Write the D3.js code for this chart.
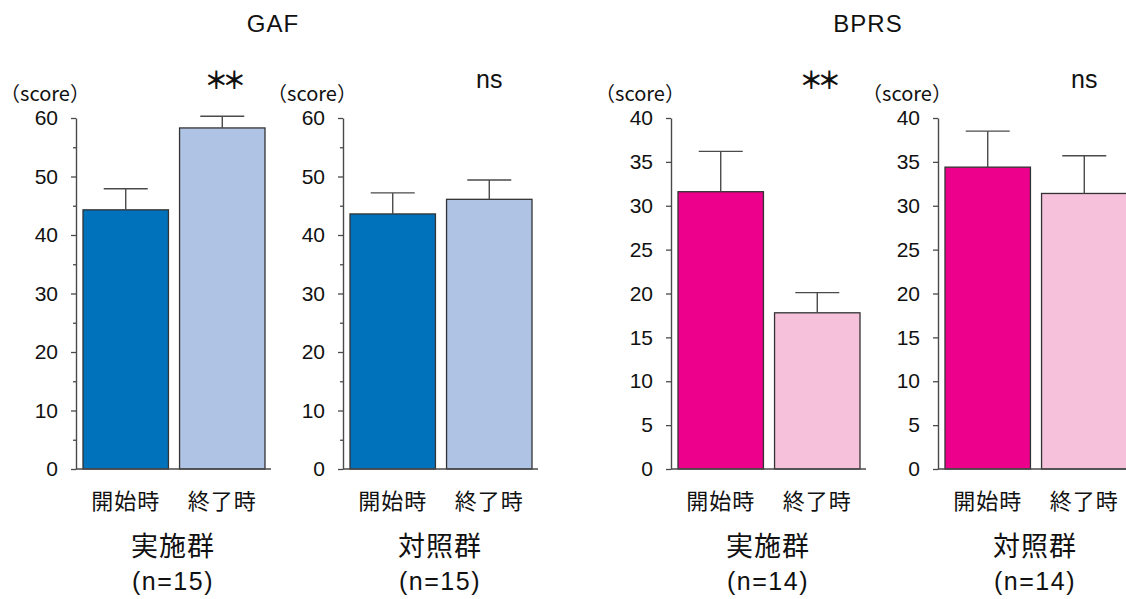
<!DOCTYPE html>
<html>
<head>
<meta charset="utf-8">
<script src="https://cdn.jsdelivr.net/npm/d3@7"></script>
<style>
  html, body { margin: 0; padding: 0; background: #fff; }
  svg { display: block; }
</style>
</head>
<body>
<svg id="chart" width="1126" height="599"></svg>
<script>
// Time points within each group
const timePoints = ["開始時", "終了時"];

// Means and upper SD per panel (start, end)
const gafTreatMean = [44.3, 58.3];
const gafTreatSd   = [3.6, 2.0];
const gafCtrlMean  = [43.6, 46.1];
const gafCtrlSd    = [3.6, 3.3];
const bprsTreatMean = [31.6, 17.8];
const bprsTreatSd   = [4.6, 2.3];
const bprsCtrlMean  = [34.4, 31.4];
const bprsCtrlSd    = [4.1, 4.3];

// Group labels, sample sizes and significance marks
const groupNames = ["実施群", "対照群", "実施群", "対照群"];
const sampleSizes = [15, 15, 14, 14];
const sigMarks = ["＊＊", "ns", "＊＊", "ns"];

// Scale titles and their axis ticks
const scaleTitles = ["GAF", "BPRS"];
const gafTicks = [0, 10, 20, 30, 40, 50, 60];
const gafMinorTicks = [5, 15, 25, 35, 45, 55];
const bprsTicks = [0, 5, 10, 15, 20, 25, 30, 35, 40];

const blueDark = "#0071bb", blueLight = "#afc4e4";
const pinkDark = "#ec008c", pinkLight = "#f6c1da";

const panels = [
  { x0: 76,  mean: gafTreatMean,  sd: gafTreatSd,  max: 60, ticks: gafTicks,  minor: gafMinorTicks, colors: [blueDark, blueLight] },
  { x0: 343, mean: gafCtrlMean,   sd: gafCtrlSd,   max: 60, ticks: gafTicks,  minor: gafMinorTicks, colors: [blueDark, blueLight] },
  { x0: 671, mean: bprsTreatMean, sd: bprsTreatSd, max: 40, ticks: bprsTicks, minor: [],            colors: [pinkDark, pinkLight] },
  { x0: 938, mean: bprsCtrlMean,  sd: bprsCtrlSd,  max: 40, ticks: bprsTicks, minor: [],            colors: [pinkDark, pinkLight] }
];

const svg = d3.select("#chart");
const yBottom = 469, yTop = 118;
const latin = "'Liberation Sans', Arial, sans-serif";
const cjk = "'Noto Sans CJK JP', 'Noto Sans', sans-serif";
const lineCol = "#4a4a4a";
const textCol = "#111";

panels.forEach((p, i) => {
  const g = svg.append("g");
  const y = d3.scaleLinear().domain([0, p.max]).range([yBottom, yTop]);
  const x = d3.scaleBand().domain(timePoints)
    .range([p.x0 + 7, p.x0 + 189]).paddingInner(0.115).paddingOuter(0);

  // bars
  g.selectAll("rect.bar").data(timePoints).join("rect")
    .attr("class", "bar")
    .attr("x", d => x(d))
    .attr("y", (d, j) => y(p.mean[j]))
    .attr("width", x.bandwidth())
    .attr("height", (d, j) => y(0) - y(p.mean[j]))
    .attr("fill", (d, j) => p.colors[j])
    .attr("stroke", "#333")
    .attr("stroke-width", 1.3);

  // upper error bars
  timePoints.forEach((d, j) => {
    const cx = x(d) + x.bandwidth() / 2;
    const top = y(p.mean[j] + p.sd[j]);
    g.append("line").attr("x1", cx).attr("x2", cx)
      .attr("y1", y(p.mean[j])).attr("y2", top)
      .attr("stroke", lineCol).attr("stroke-width", 1.4);
    g.append("line").attr("x1", cx - 22).attr("x2", cx + 22)
      .attr("y1", top).attr("y2", top)
      .attr("stroke", lineCol).attr("stroke-width", 1.4);
  });

  // y axis with labelled ticks
  const axis = g.append("g").attr("transform", `translate(${p.x0},0)`)
    .call(d3.axisLeft(y).tickValues(p.ticks).tickSize(5).tickSizeOuter(0).tickPadding(13));
  axis.select(".domain").attr("stroke", lineCol).attr("stroke-width", 1.4);
  axis.selectAll(".tick line").attr("stroke", lineCol).attr("stroke-width", 1.3);
  axis.selectAll(".tick text")
    .attr("font-family", latin).attr("font-size", 21).attr("fill", textCol);

  // unlabelled minor ticks
  if (p.minor.length) {
    const minorAxis = g.append("g").attr("transform", `translate(${p.x0},0)`)
      .call(d3.axisLeft(y).tickValues(p.minor).tickSize(3).tickFormat(""));
    minorAxis.select(".domain").remove();
    minorAxis.selectAll(".tick line").attr("stroke", lineCol).attr("stroke-width", 1.3);
  }

  // baseline
  g.append("line").attr("x1", p.x0).attr("x2", p.x0 + 195)
    .attr("y1", yBottom).attr("y2", yBottom)
    .attr("stroke", lineCol).attr("stroke-width", 1.4);

  // unit label
  g.append("text").attr("x", p.x0 - 31).attr("y", 101)
    .attr("text-anchor", "middle").attr("font-family", cjk).attr("font-size", 20)
    .attr("fill", textCol).text("（score）");

  // significance mark above the end bar
  const sx = x(timePoints[1]) + x.bandwidth() / 2;
  const isStar = sigMarks[i] !== "ns";
  g.append("text").attr("x", sx).attr("y", isStar ? 89 : 88)
    .attr("text-anchor", "middle")
    .attr("font-family", isStar ? cjk : latin)
    .attr("font-size", isStar ? 24 : 25)
    .attr("font-weight", isStar ? 700 : 400)
    .attr("letter-spacing", isStar ? -6 : 0)
    .attr("fill", textCol)
    .text(sigMarks[i]);

  // time point labels
  g.selectAll("text.tp").data(timePoints).join("text")
    .attr("class", "tp")
    .attr("x", d => x(d) + x.bandwidth() / 2)
    .attr("y", 509)
    .attr("text-anchor", "middle").attr("font-family", cjk).attr("font-size", 22)
    .attr("letter-spacing", 1)
    .attr("fill", textCol).text(d => d);

  // group label and sample size
  const gx = p.x0 + 97;
  g.append("text").attr("x", gx).attr("y", 556)
    .attr("text-anchor", "middle").attr("font-family", cjk).attr("font-size", 27)
    .attr("letter-spacing", 1)
    .attr("fill", textCol).text(groupNames[i]);
  g.append("text").attr("x", gx).attr("y", 590)
    .attr("text-anchor", "middle").attr("font-family", latin).attr("font-size", 25)
    .attr("letter-spacing", 1.5)
    .attr("fill", textCol).text(`(n=${sampleSizes[i]})`);
});

// scale titles
svg.append("text").attr("x", 273).attr("y", 32).attr("text-anchor", "middle")
  .attr("font-family", latin).attr("font-size", 24).attr("letter-spacing", 1)
  .attr("fill", textCol).text(scaleTitles[0]);
svg.append("text").attr("x", 868).attr("y", 32).attr("text-anchor", "middle")
  .attr("font-family", latin).attr("font-size", 24).attr("letter-spacing", 1)
  .attr("fill", textCol).text(scaleTitles[1]);
</script>
</body>
</html>
